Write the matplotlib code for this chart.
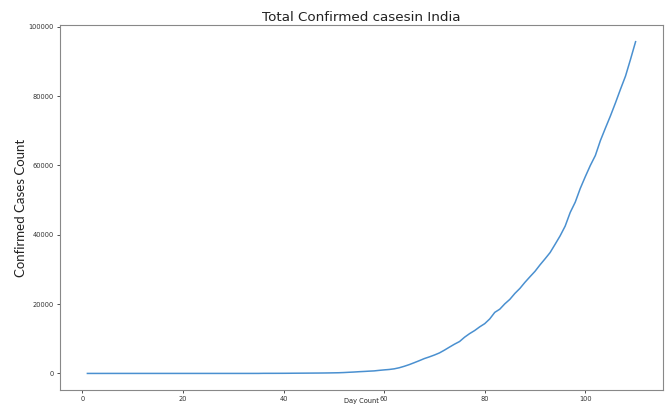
import matplotlib
matplotlib.use("Agg")
import matplotlib.pyplot as plt
import numpy as np

# cumulative confirmed cases in India, one value per day
early = [1, 1, 1, 1, 2] + [3] * 28
march = [5, 6, 28, 30, 31, 34, 39, 48, 63, 71, 81, 91, 102, 112, 126,
         146, 171, 198, 256, 334, 403, 497, 571, 657, 730, 883, 1019,
         1139, 1326, 1635]
april = [2059, 2545, 3105, 3684, 4289, 4778, 5311, 5916, 6725, 7598,
         8446, 9205, 10453, 11487, 12371, 13432, 14354, 15722, 17615,
         18539, 20080, 21370, 23077, 24530, 26283, 27890, 29451, 31324,
         33062, 34863]
may = [37257, 39699, 42505, 46437, 49400, 53364, 56759, 59991, 62865,
       67161, 70768, 74292, 78055, 81997, 85784, 90648, 95698]

confirmed = early + march + april + may
days = np.arange(1, len(confirmed) + 1)

fig = plt.figure(figsize=(6.68, 4.05), dpi=100)
ax = fig.add_axes([0.0898, 0.037, 0.9027, 0.901])

ax.plot(days, confirmed, color="#4a90d0", linewidth=1.1)

ax.set_title("Total Confirmed casesin India", fontsize=9.7, color="#222222", pad=3)
ax.set_ylabel("Confirmed Cases Count", fontsize=9.5, family="Lato", color="#222222", labelpad=1)
ax.set_xlabel("Day Count", fontsize=4.8, color="#222222")
# squeeze the x label into the thin strip under the tick labels
ax.xaxis.set_label_coords(0.5, -0.021)

ax.tick_params(labelsize=4.8, length=2, width=0.6, pad=2.5, colors="#333333")
for s in ax.spines.values():
    s.set_color("#888888")
    s.set_linewidth(0.8)

fig.savefig("out.png", dpi=100)
